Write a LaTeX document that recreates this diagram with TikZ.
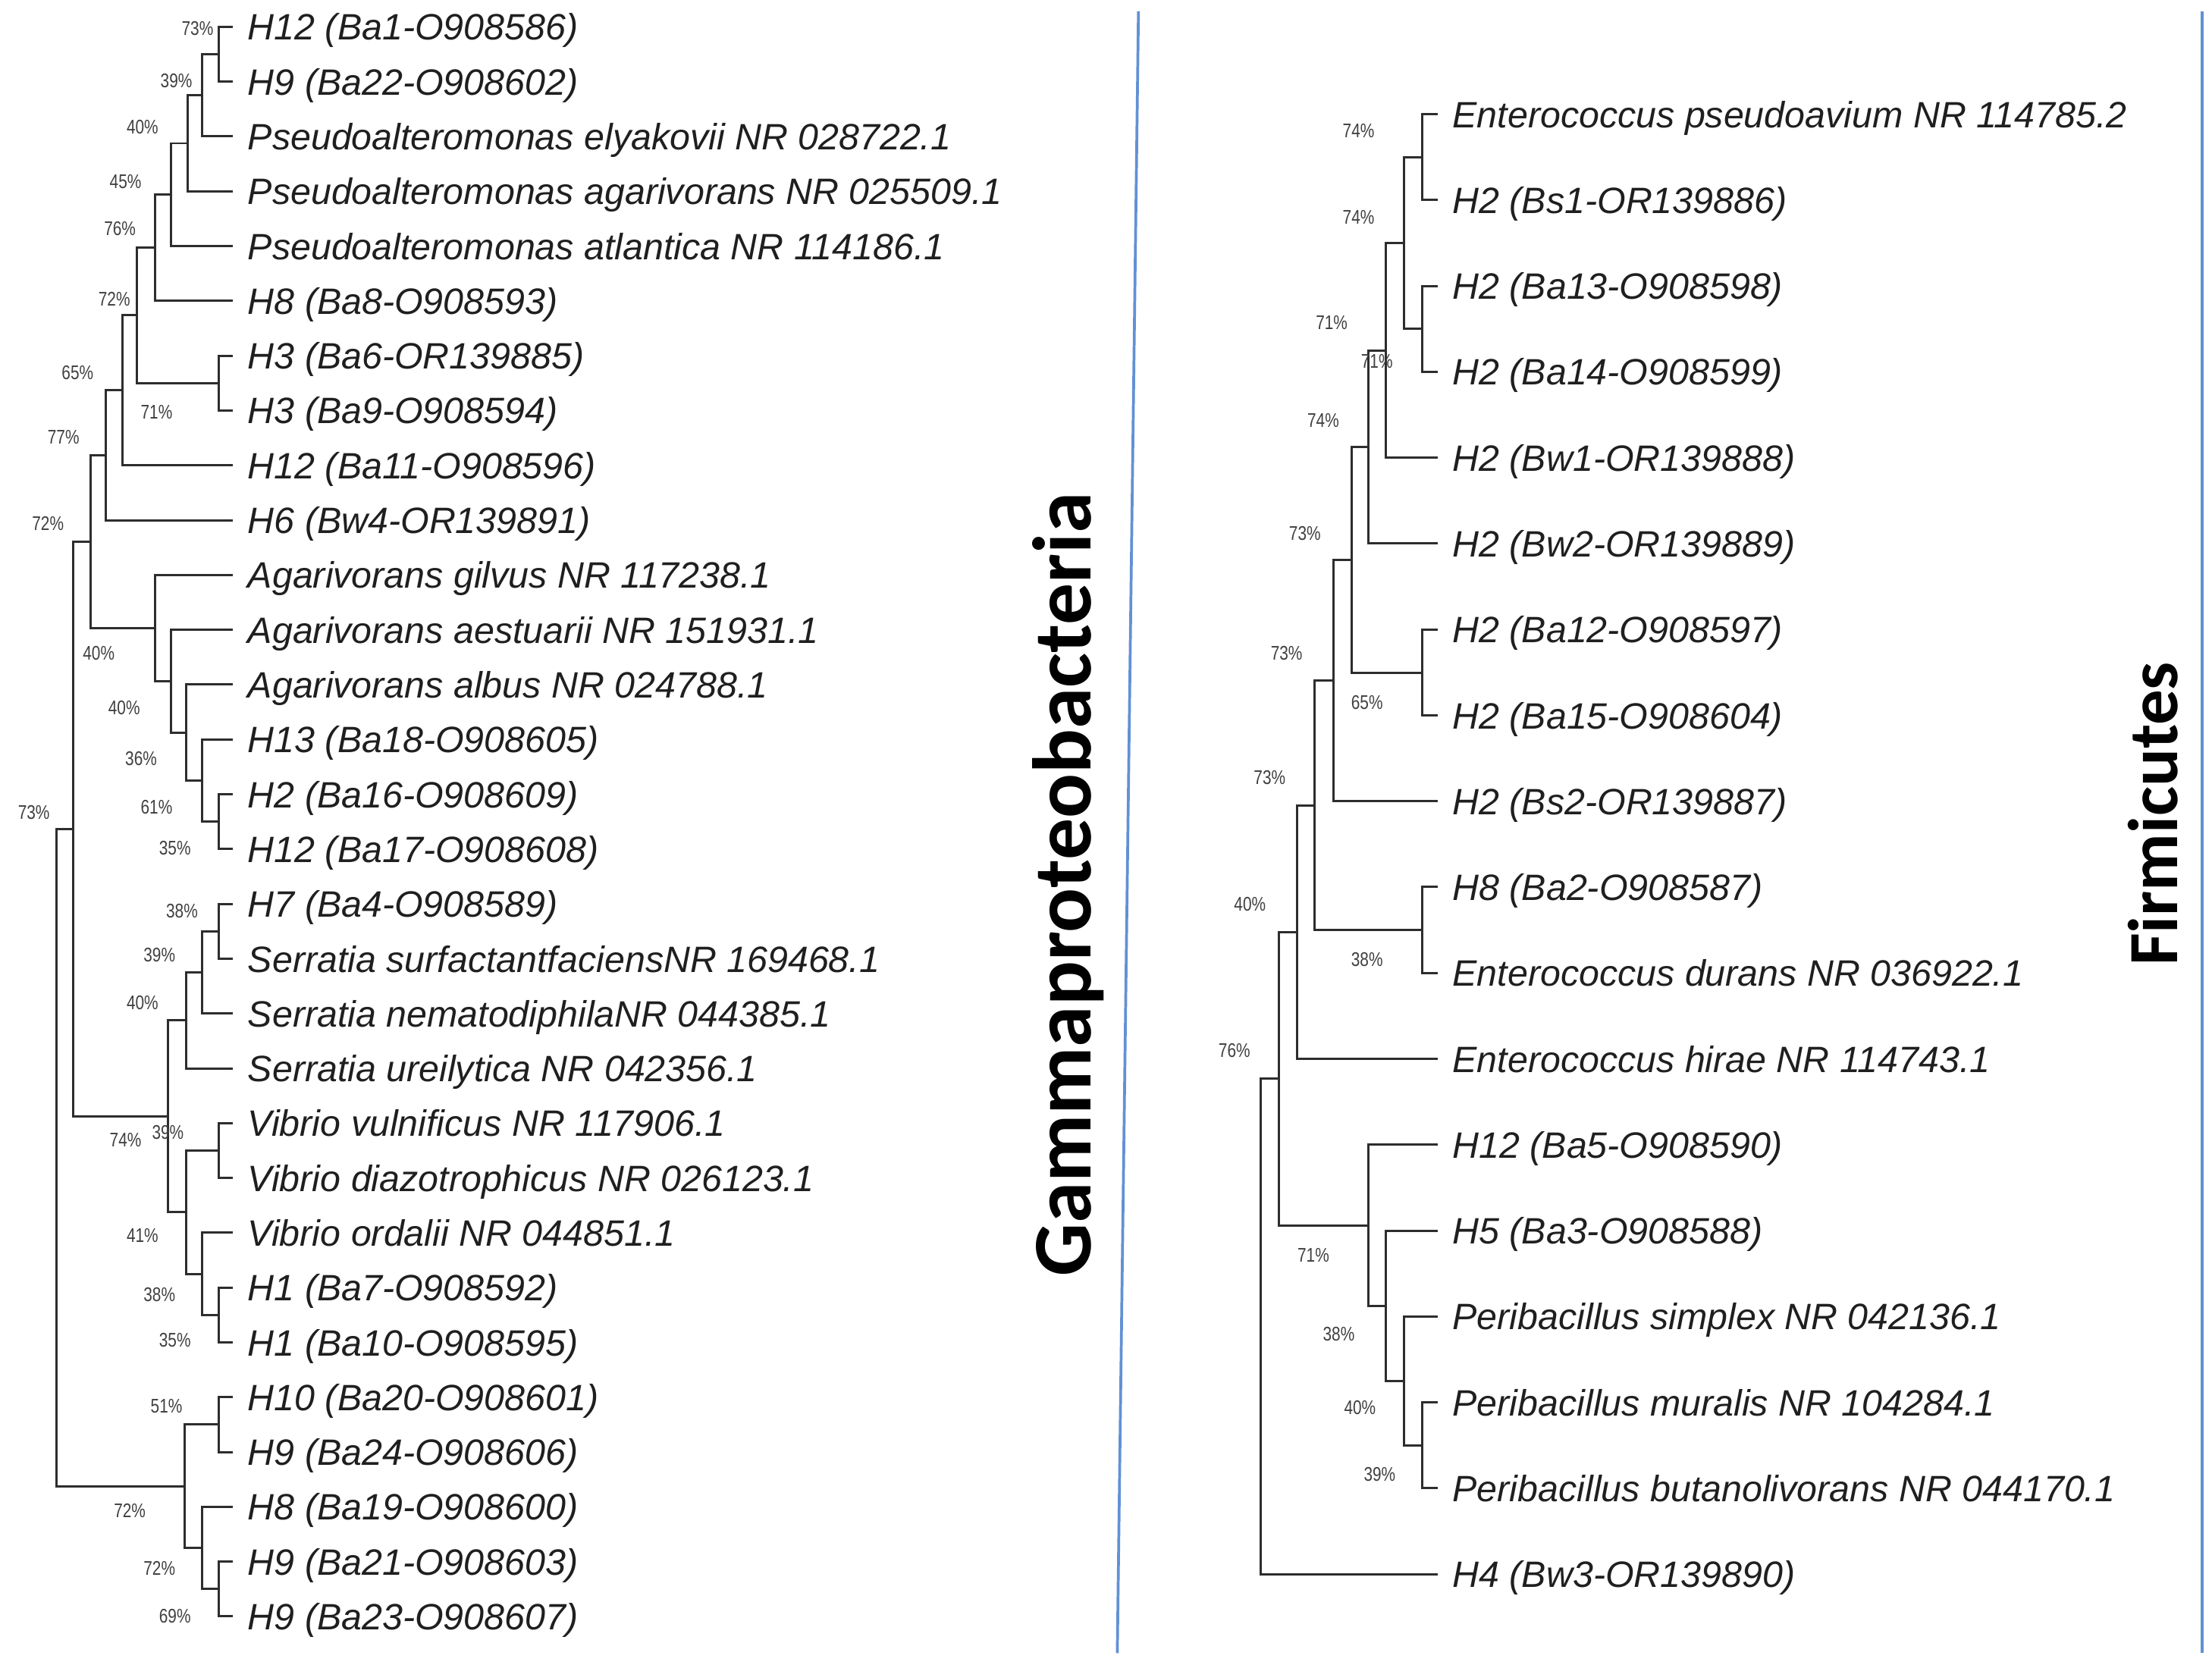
\documentclass[tikz,border=0pt]{standalone}
\usepackage{fontspec}
\setmainfont{Liberation Sans}
\newfontfamily\bootfont[FakeStretch=0.8]{Liberation Sans}
\newfontfamily\cladefont{Carlito}
\definecolor{treeline}{RGB}{45,45,45}
\definecolor{sepblue}{RGB}{98,145,212}

\begin{document}
\begin{tikzpicture}[x=1pt,y=-1pt,
  branch/.style={draw=treeline,line width=1.6pt},
  leaf/.style={anchor=west,inner xsep=10.5pt,inner ysep=0pt,text height=18.9pt,text depth=0pt,
    font=\fontsize{26}{30}\selectfont\itshape,text=black!88},
  boot/.style={font=\bootfont\fontsize{14}{14}\selectfont,text=black!75,inner sep=0pt},
  clade/.style={font=\cladefont\bfseries,rotate=90,inner sep=0pt},
  divider/.style={draw=sepblue,line width=2pt}]
\useasboundingbox (0,0) rectangle (1568,1180);

% dividers
\draw[divider] (807,8) -- (792,1172);
\draw[divider] (1561,8) -- (1561,1172);

% Gammaproteobacteria leaves
\node[leaf] (L0) at (165,19.0) {H12 (Ba1-O908586)};
\node[leaf] (L1) at (165,57.9) {H9 (Ba22-O908602)};
\node[leaf] (L2) at (165,96.7) {Pseudoalteromonas elyakovii NR 028722.1};
\node[leaf] (L3) at (165,135.6) {Pseudoalteromonas agarivorans NR 025509.1};
\node[leaf] (L4) at (165,174.4) {Pseudoalteromonas atlantica NR 114186.1};
\node[leaf] (L5) at (165,213.3) {H8 (Ba8-O908593)};
\node[leaf] (L6) at (165,252.2) {H3 (Ba6-OR139885)};
\node[leaf] (L7) at (165,291.0) {H3 (Ba9-O908594)};
\node[leaf] (L8) at (165,329.9) {H12 (Ba11-O908596)};
\node[leaf] (L9) at (165,368.8) {H6 (Bw4-OR139891)};
\node[leaf] (L10) at (165,407.6) {Agarivorans gilvus NR 117238.1};
\node[leaf] (L11) at (165,446.5) {Agarivorans aestuarii NR 151931.1};
\node[leaf] (L12) at (165,485.3) {Agarivorans albus NR 024788.1};
\node[leaf] (L13) at (165,524.2) {H13 (Ba18-O908605)};
\node[leaf] (L14) at (165,563.1) {H2 (Ba16-O908609)};
\node[leaf] (L15) at (165,601.9) {H12 (Ba17-O908608)};
\node[leaf] (L16) at (165,640.8) {H7 (Ba4-O908589)};
\node[leaf] (L17) at (165,679.7) {Serratia surfactantfaciensNR 169468.1};
\node[leaf] (L18) at (165,718.5) {Serratia nematodiphilaNR 044385.1};
\node[leaf] (L19) at (165,757.4) {Serratia ureilytica NR 042356.1};
\node[leaf] (L20) at (165,796.2) {Vibrio vulnificus NR 117906.1};
\node[leaf] (L21) at (165,835.1) {Vibrio diazotrophicus NR 026123.1};
\node[leaf] (L22) at (165,874.0) {Vibrio ordalii NR 044851.1};
\node[leaf] (L23) at (165,912.8) {H1 (Ba7-O908592)};
\node[leaf] (L24) at (165,951.7) {H1 (Ba10-O908595)};
\node[leaf] (L25) at (165,990.6) {H10 (Ba20-O908601)};
\node[leaf] (L26) at (165,1029.4) {H9 (Ba24-O908606)};
\node[leaf] (L27) at (165,1068.3) {H8 (Ba19-O908600)};
\node[leaf] (L28) at (165,1107.1) {H9 (Ba21-O908603)};
\node[leaf] (L29) at (165,1146.0) {H9 (Ba23-O908607)};

% Gammaproteobacteria inner nodes
\coordinate (a1) at (155,38.5);
\coordinate (a2) at (143,67.6);
\coordinate (a3) at (133,101.6);
\coordinate (a4) at (121,138.0);
\coordinate (a5) at (110,175.6);
\coordinate (a6) at (155,271.6);
\coordinate (a7) at (97,223.6);
\coordinate (a8) at (87,276.8);
\coordinate (a9) at (75,322.8);
\coordinate (b1) at (155,582.5);
\coordinate (b2) at (143,553.4);
\coordinate (b3) at (132,519.3);
\coordinate (b4) at (121,482.9);
\coordinate (b5) at (110,445.3);
\coordinate (c) at (64,384.0);
\coordinate (s1) at (155,660.3);
\coordinate (s2) at (143,689.4);
\coordinate (s3) at (132,723.4);
\coordinate (v1) at (155,815.7);
\coordinate (h1) at (155,932.3);
\coordinate (v2) at (143,903.1);
\coordinate (v3) at (132,859.4);
\coordinate (s4) at (119,791.4);
\coordinate (d) at (52,587.7);
\coordinate (e1) at (155,1010.0);
\coordinate (e2) at (155,1126.6);
\coordinate (e3) at (143,1097.4);
\coordinate (e4) at (131,1053.7);
\coordinate (rootL) at (40,820.7);

\draw[branch] (L0.west) -| (a1) |- (L1.west);
\draw[branch] (a1) -| (a2) |- (L2.west);
\draw[branch] (a2) -| (a3) |- (L3.west);
\draw[branch] (a3) -| (a4) |- (L4.west);
\draw[branch] (a4) -| (a5) |- (L5.west);
\draw[branch] (L6.west) -| (a6) |- (L7.west);
\draw[branch] (a5) -| (a7) |- (a6);
\draw[branch] (a7) -| (a8) |- (L8.west);
\draw[branch] (a8) -| (a9) |- (L9.west);
\draw[branch] (L14.west) -| (b1) |- (L15.west);
\draw[branch] (L13.west) -| (b2) |- (b1);
\draw[branch] (L12.west) -| (b3) |- (b2);
\draw[branch] (L11.west) -| (b4) |- (b3);
\draw[branch] (L10.west) -| (b5) |- (b4);
\draw[branch] (a9) -| (c) |- (b5);
\draw[branch] (L16.west) -| (s1) |- (L17.west);
\draw[branch] (s1) -| (s2) |- (L18.west);
\draw[branch] (s2) -| (s3) |- (L19.west);
\draw[branch] (L20.west) -| (v1) |- (L21.west);
\draw[branch] (L23.west) -| (h1) |- (L24.west);
\draw[branch] (L22.west) -| (v2) |- (h1);
\draw[branch] (v1) -| (v3) |- (v2);
\draw[branch] (s3) -| (s4) |- (v3);
\draw[branch] (c) -| (d) |- (s4);
\draw[branch] (L25.west) -| (e1) |- (L26.west);
\draw[branch] (L28.west) -| (e2) |- (L29.west);
\draw[branch] (L27.west) -| (e3) |- (e2);
\draw[branch] (e1) -| (e4) |- (e3);
\draw[branch] (d) -| (rootL) |- (e4);

% Gammaproteobacteria bootstrap
\node[boot] (ba1) at (140,20) {73\%};
\node[boot] (ba2) at (125,57) {39\%};
\node[boot] (ba3) at (101,90) {40\%};
\node[boot] (ba4) at (89,129) {45\%};
\node[boot] (ba5) at (85,162) {76\%};
\node[boot] (ba7) at (81,212) {72\%};
\node[boot] (ba8) at (55,264) {65\%};
\node[boot] (ba6) at (111,292) {71\%};
\node[boot] (ba9) at (45,310) {77\%};
\node[boot] (bc) at (34,371) {72\%};
\node[boot] (bb5) at (70,463) {40\%};
\node[boot] (bb4) at (88,502) {40\%};
\node[boot] (bb3) at (100,538) {36\%};
\node[boot] (bb2) at (111,572) {61\%};
\node[boot] (bb1) at (124,601) {35\%};
\node[boot] (bd) at (24,576) {73\%};
\node[boot] (bs1) at (129,646) {38\%};
\node[boot] (bs2) at (113,677) {39\%};
\node[boot] (bs3) at (101,711) {40\%};
\node[boot] (bs4) at (89,808) {74\%};
\node[boot] (bv1) at (119,803) {39\%};
\node[boot] (bv3) at (101,876) {41\%};
\node[boot] (bv2) at (113,918) {38\%};
\node[boot] (bh1) at (124,950) {35\%};
\node[boot] (be1) at (118,997) {51\%};
\node[boot] (be4) at (92,1071) {72\%};
\node[boot] (be3) at (113,1112) {72\%};
\node[boot] (be2) at (124,1146) {69\%};

\node[clade,font=\cladefont\bfseries\fontsize{59}{66}\selectfont] (gamma) at (757,627) {Gammaproteobacteria};

% Firmicutes leaves
\node[leaf] (R0) at (1019,81.0) {Enterococcus pseudoavium NR 114785.2};
\node[leaf] (R1) at (1019,141.9) {H2 (Bs1-OR139886)};
\node[leaf] (R2) at (1019,202.8) {H2 (Ba13-O908598)};
\node[leaf] (R3) at (1019,263.6) {H2 (Ba14-O908599)};
\node[leaf] (R4) at (1019,324.5) {H2 (Bw1-OR139888)};
\node[leaf] (R5) at (1019,385.4) {H2 (Bw2-OR139889)};
\node[leaf] (R6) at (1019,446.3) {H2 (Ba12-O908597)};
\node[leaf] (R7) at (1019,507.2) {H2 (Ba15-O908604)};
\node[leaf] (R8) at (1019,568.1) {H2 (Bs2-OR139887)};
\node[leaf] (R9) at (1019,628.9) {H8 (Ba2-O908587)};
\node[leaf] (R10) at (1019,689.8) {Enterococcus durans NR 036922.1};
\node[leaf] (R11) at (1019,750.7) {Enterococcus hirae NR 114743.1};
\node[leaf] (R12) at (1019,811.6) {H12 (Ba5-O908590)};
\node[leaf] (R13) at (1019,872.5) {H5 (Ba3-O908588)};
\node[leaf] (R14) at (1019,933.3) {Peribacillus simplex NR 042136.1};
\node[leaf] (R15) at (1019,994.2) {Peribacillus muralis NR 104284.1};
\node[leaf] (R16) at (1019,1055.1) {Peribacillus butanolivorans NR 044170.1};
\node[leaf] (R17) at (1019,1116.0) {H4 (Bw3-OR139890)};

% Firmicutes inner nodes
\coordinate (f1) at (1008,111.5);
\coordinate (f2) at (1008,233.2);
\coordinate (f3) at (995,172.3);
\coordinate (f4) at (982.5,248.4);
\coordinate (f5) at (970,316.9);
\coordinate (g1) at (1008,476.8);
\coordinate (f6) at (958,396.8);
\coordinate (f7) at (945,482.5);
\coordinate (hh) at (1008,659.4);
\coordinate (f8) at (932,571.0);
\coordinate (f9) at (919.5,660.8);
\coordinate (p4) at (1008,1024.7);
\coordinate (p3) at (995,979.0);
\coordinate (p2) at (982.5,925.8);
\coordinate (p1) at (970,868.7);
\coordinate (f10) at (906.5,764.8);
\coordinate (rootR) at (893.5,940.4);

\draw[branch] (R0.west) -| (f1) |- (R1.west);
\draw[branch] (R2.west) -| (f2) |- (R3.west);
\draw[branch] (f1) -| (f3) |- (f2);
\draw[branch] (f3) -| (f4) |- (R4.west);
\draw[branch] (f4) -| (f5) |- (R5.west);
\draw[branch] (R6.west) -| (g1) |- (R7.west);
\draw[branch] (f5) -| (f6) |- (g1);
\draw[branch] (f6) -| (f7) |- (R8.west);
\draw[branch] (R9.west) -| (hh) |- (R10.west);
\draw[branch] (f7) -| (f8) |- (hh);
\draw[branch] (f8) -| (f9) |- (R11.west);
\draw[branch] (R15.west) -| (p4) |- (R16.west);
\draw[branch] (R14.west) -| (p3) |- (p4);
\draw[branch] (R13.west) -| (p2) |- (p3);
\draw[branch] (R12.west) -| (p1) |- (p2);
\draw[branch] (f9) -| (f10) |- (p1);
\draw[branch] (f10) -| (rootR) |- (R17.west);

% Firmicutes bootstrap
\node[boot] (bf1) at (963,93) {74\%};
\node[boot] (bf3) at (963,154) {74\%};
\node[boot] (bf4) at (944,229) {71\%};
\node[boot] (bf2) at (976,256) {71\%};
\node[boot] (bf5) at (938,298) {74\%};
\node[boot] (bf6) at (925,378) {73\%};
\node[boot] (bf7) at (912,463) {73\%};
\node[boot] (bg1) at (969,498) {65\%};
\node[boot] (bf8) at (900,551) {73\%};
\node[boot] (bhh) at (969,680) {38\%};
\node[boot] (bf9) at (886,641) {40\%};
\node[boot] (bf10) at (875,745) {76\%};
\node[boot] (bp1) at (931,890) {71\%};
\node[boot] (bp2) at (949,946) {38\%};
\node[boot] (bp3) at (964,998) {40\%};
\node[boot] (bp4) at (978,1045) {39\%};

\node[clade,font=\cladefont\bfseries\fontsize{50}{58}\selectfont] (firm) at (1526,577) {Firmicutes};
\end{tikzpicture}
\end{document}
